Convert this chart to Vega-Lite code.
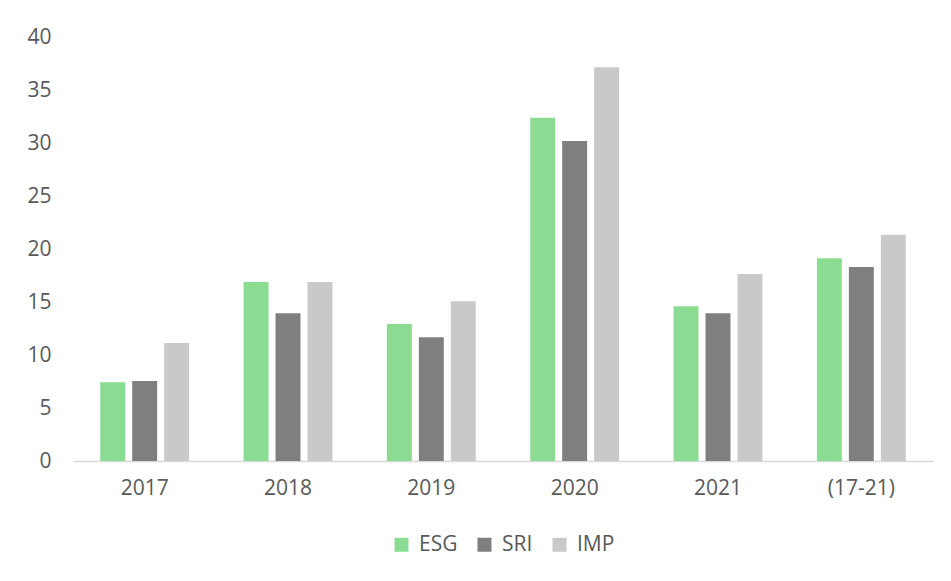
{
  "$schema": "https://vega.github.io/schema/vega-lite/v6.json",
  "width": 860,
  "height": 424,
  "autosize": {"type": "none"},
  "padding": {"left": 73, "top": 37, "right": 18, "bottom": 120},
  "background": "white",
  "config": {
    "view": {"stroke": null},
    "font": "Open Sans",
    "axis": {"labelFont": "Open Sans", "labelColor": "#595959", "labelFontSize": 21}
  },
  "data": {
    "values": [
      {"period": "2017", "series": "ESG", "value": 7.42},
      {"period": "2017", "series": "SRI", "value": 7.55},
      {"period": "2017", "series": "IMP", "value": 11.13},
      {"period": "2018", "series": "ESG", "value": 16.89},
      {"period": "2018", "series": "SRI", "value": 13.93},
      {"period": "2018", "series": "IMP", "value": 16.89},
      {"period": "2019", "series": "ESG", "value": 12.92},
      {"period": "2019", "series": "SRI", "value": 11.67},
      {"period": "2019", "series": "IMP", "value": 15.07},
      {"period": "2020", "series": "ESG", "value": 32.39},
      {"period": "2020", "series": "SRI", "value": 30.19},
      {"period": "2020", "series": "IMP", "value": 37.14},
      {"period": "2021", "series": "ESG", "value": 14.59},
      {"period": "2021", "series": "SRI", "value": 13.93},
      {"period": "2021", "series": "IMP", "value": 17.64},
      {"period": "(17-21)", "series": "ESG", "value": 19.12},
      {"period": "(17-21)", "series": "SRI", "value": 18.3},
      {"period": "(17-21)", "series": "IMP", "value": 21.35}
    ]
  },
  "mark": {"type": "bar"},
  "encoding": {
    "x": {
      "field": "period",
      "type": "nominal",
      "sort": ["2017", "2018", "2019", "2020", "2021", "(17-21)"],
      "scale": {"paddingInner": 0.38, "paddingOuter": 0.19},
      "axis": {
        "title": null,
        "labelAngle": 0,
        "ticks": false,
        "domainColor": "#D9D9D9",
        "domainWidth": 1.5,
        "labelPadding": 16
      }
    },
    "xOffset": {
      "field": "series",
      "type": "nominal",
      "sort": ["ESG", "SRI", "IMP"],
      "scale": {"paddingInner": 0.22, "paddingOuter": 0}
    },
    "y": {
      "field": "value",
      "type": "quantitative",
      "scale": {"domain": [0, 40], "nice": false},
      "axis": {
        "title": null,
        "values": [0, 5, 10, 15, 20, 25, 30, 35, 40],
        "domain": false,
        "ticks": false,
        "grid": false,
        "labelPadding": 22
      }
    },
    "color": {
      "field": "series",
      "type": "nominal",
      "sort": ["ESG", "SRI", "IMP"],
      "scale": {"domain": ["ESG", "SRI", "IMP"], "range": ["#8BDC92", "#7F7F7F", "#C9C9C9"]},
      "legend": {
        "title": null,
        "orient": "none",
        "direction": "horizontal",
        "legendX": 318,
        "legendY": 497,
        "symbolType": "square",
        "symbolSize": 196,
        "symbolStrokeWidth": 0,
        "labelFontSize": 21,
        "labelColor": "#595959",
        "labelFont": "Open Sans",
        "labelOffset": 7,
        "columnPadding": 16
      }
    }
  }
}
